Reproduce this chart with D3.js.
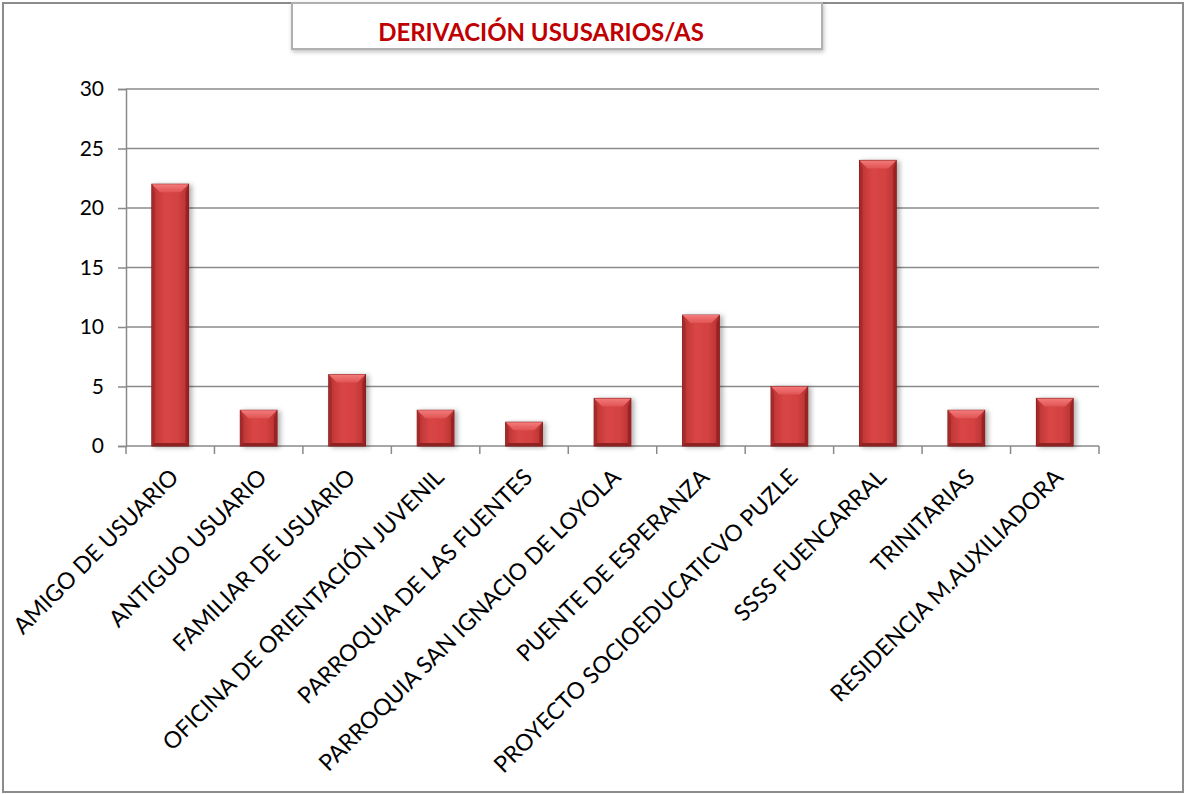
<!DOCTYPE html>
<html>
<head>
<meta charset="utf-8">
<script src="https://cdn.jsdelivr.net/npm/d3@7"></script>
<style>
  body { margin: 0; background: #fff; }
  svg { display: block; font-family: Lato, "Open Sans", sans-serif; }
</style>
</head>
<body>
<div id="chart"></div>
<script>
// chart data
const categories = [
  "AMIGO DE USUARIO",
  "ANTIGUO USUARIO",
  "FAMILIAR DE USUARIO",
  "OFICINA DE ORIENTACIÓN JUVENIL",
  "PARROQUIA DE LAS FUENTES",
  "PARROQUIA SAN IGNACIO DE LOYOLA",
  "PUENTE DE ESPERANZA",
  "PROYECTO SOCIOEDUCATICVO PUZLE",
  "SSSS FUENCARRAL",
  "TRINITARIAS",
  "RESIDENCIA M.AUXILIADORA"
];
const values = [22, 3, 6, 3, 2, 4, 11, 5, 24, 3, 4];
const yTicks = [0, 5, 10, 15, 20, 25, 30];
const title = "DERIVACIÓN USUSARIOS/AS";

const W = 1186, H = 794;
const plot = { left: 126, right: 1099, top: 89, bottom: 446 };

const svg = d3.select("#chart").append("svg")
  .attr("width", W)
  .attr("height", H);

// gradients and shadow
const defs = svg.append("defs");
const body = defs.append("linearGradient").attr("id", "barBody")
  .attr("x1", "0").attr("x2", "1").attr("y1", "0").attr("y2", "0");
body.append("stop").attr("offset", "0").attr("stop-color", "#b83232");
body.append("stop").attr("offset", "0.35").attr("stop-color", "#d94545");
body.append("stop").attr("offset", "0.7").attr("stop-color", "#d44242");
body.append("stop").attr("offset", "1").attr("stop-color", "#b53030");

const topG = defs.append("linearGradient").attr("id", "barTop")
  .attr("x1", "0").attr("x2", "0").attr("y1", "0").attr("y2", "1");
topG.append("stop").attr("offset", "0").attr("stop-color", "#f47a7a");
topG.append("stop").attr("offset", "1").attr("stop-color", "#e05454");

const shadow = defs.append("filter").attr("id", "shadow")
  .attr("x", "-20%").attr("y", "-10%").attr("width", "150%").attr("height", "130%");
shadow.append("feDropShadow")
  .attr("dx", 3).attr("dy", 1).attr("stdDeviation", 2.5)
  .attr("flood-color", "#000").attr("flood-opacity", 0.3);

// outer frame
svg.append("rect")
  .attr("x", 3).attr("y", 3)
  .attr("width", W - 6).attr("height", H - 5)
  .attr("fill", "#fff")
  .attr("stroke", "#8c8c8c")
  .attr("stroke-width", 2);

// scales
const x = d3.scaleBand().domain(categories).range([plot.left, plot.right]);
const barW = x.bandwidth() * 0.415;

const y = d3.scaleLinear()
  .domain([0, 30])
  .range([plot.bottom, plot.top]);

// gridlines
svg.append("g")
  .selectAll("line")
  .data(yTicks.filter((d) => d > 0))
  .enter()
  .append("line")
  .attr("x1", plot.left)
  .attr("x2", plot.right)
  .attr("y1", (d) => y(d))
  .attr("y2", (d) => y(d))
  .attr("stroke", "#8a8a8a")
  .attr("stroke-width", 1.5);

// y axis
const yAxis = svg.append("g")
  .attr("transform", `translate(${plot.left},0)`)
  .call(d3.axisLeft(y).tickValues(yTicks).tickSize(8).tickPadding(14));
yAxis.select(".domain").attr("stroke", "#8a8a8a").attr("stroke-width", 1.5);
yAxis.selectAll(".tick line").attr("stroke", "#8a8a8a").attr("stroke-width", 1.5);
yAxis.selectAll(".tick text")
  .attr("fill", "#000")
  .style("font-size", "21px")
  .style("font-family", "Lato, sans-serif");

// x axis baseline and ticks at category boundaries
const xAxis = svg.append("g");
xAxis.append("line")
  .attr("x1", plot.left).attr("x2", plot.right)
  .attr("y1", plot.bottom).attr("y2", plot.bottom)
  .attr("stroke", "#8a8a8a").attr("stroke-width", 1.5);
const bounds = categories.map((c) => x(c)).concat([plot.right]);
xAxis.selectAll("line.tick")
  .data(bounds)
  .enter()
  .append("line")
  .attr("class", "tick")
  .attr("x1", (d) => d).attr("x2", (d) => d)
  .attr("y1", plot.bottom).attr("y2", plot.bottom + 8)
  .attr("stroke", "#8a8a8a").attr("stroke-width", 1.5);

// category labels, rotated
xAxis.selectAll("text")
  .data(categories)
  .enter()
  .append("text")
  .attr("transform", (d) => {
    const cx = x(d) + x.bandwidth() / 2 + 4;
    return `translate(${cx},${plot.bottom + 27}) rotate(-45)`;
  })
  .attr("text-anchor", "end")
  .attr("dy", "0.35em")
  .style("font-size", "23px")
  .attr("fill", "#000")
  .text((d) => d);

// bars with bevel
const bev = 8;
const bx = (d) => x(d.cat) + (x.bandwidth() - barW) / 2;
const bars = svg.append("g")
  .selectAll("g.bar")
  .data(categories.map((c, i) => ({ cat: c, val: values[i] })))
  .enter()
  .append("g")
  .attr("class", "bar")
  .attr("filter", "url(#shadow)");

bars.append("rect")
  .attr("x", bx)
  .attr("y", (d) => y(d.val))
  .attr("width", barW)
  .attr("height", (d) => y(0) - y(d.val))
  .attr("fill", "url(#barBody)")
  .attr("stroke", "#7e1a1a")
  .attr("stroke-width", 1);

// top bevel
bars.append("polygon")
  .attr("points", (d) => {
    const x0 = bx(d), x1 = x0 + barW, y0 = y(d.val);
    return [[x0, y0], [x1, y0], [x1 - bev, y0 + bev], [x0 + bev, y0 + bev]].join(" ");
  })
  .attr("fill", "url(#barTop)");

// side and bottom bevels
bars.append("polygon")
  .attr("points", (d) => {
    const x0 = bx(d), y0 = y(d.val), yb = y(0);
    return [[x0, y0], [x0 + 3, y0 + bev], [x0 + 3, yb - 3], [x0, yb]].join(" ");
  })
  .attr("fill", "#a62a2a");
bars.append("polygon")
  .attr("points", (d) => {
    const x1 = bx(d) + barW, y0 = y(d.val), yb = y(0);
    return [[x1, y0], [x1 - 3, y0 + bev], [x1 - 3, yb - 3], [x1, yb]].join(" ");
  })
  .attr("fill", "#9a2424");
bars.append("polygon")
  .attr("points", (d) => {
    const x0 = bx(d), x1 = x0 + barW, yb = y(0);
    return [[x0, yb], [x1, yb], [x1 - 3, yb - 3], [x0 + 3, yb - 3]].join(" ");
  })
  .attr("fill", "#8e2020");

// title box
const tb = svg.append("g");
tb.append("rect")
  .attr("x", 292).attr("y", 3)
  .attr("width", 530).attr("height", 46)
  .attr("fill", "#fff")
  .attr("stroke", "#b0b0b0")
  .attr("stroke-width", 2)
  .style("filter", "drop-shadow(1px 2px 2px rgba(0,0,0,0.25))");
tb.append("text")
  .attr("x", 541).attr("y", 41)
  .attr("text-anchor", "middle")
  .attr("fill", "#c00000")
  .style("font-size", "24px")
  .style("font-weight", "bold")
  .text(title);
</script>
</body>
</html>
